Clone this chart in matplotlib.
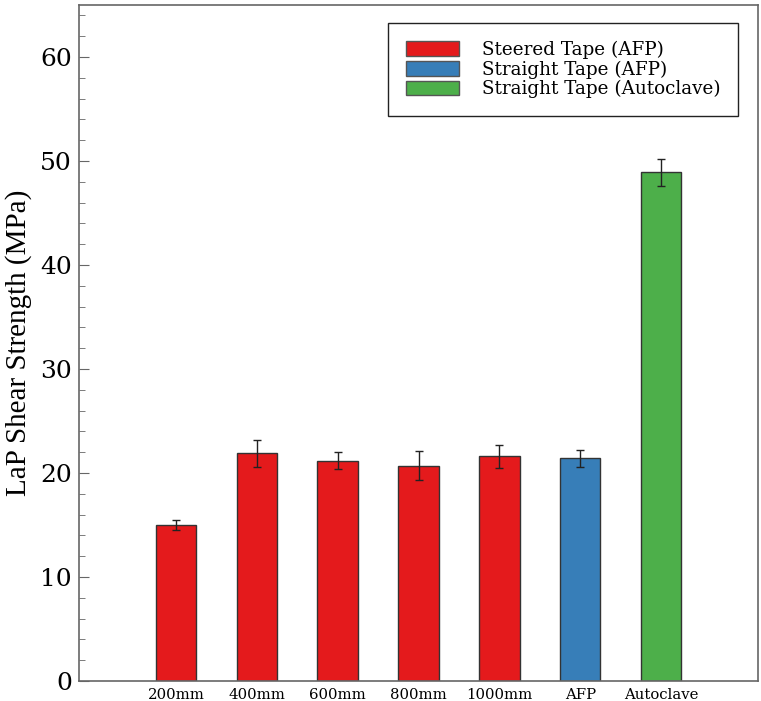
import matplotlib
matplotlib.use("Agg")
import matplotlib.pyplot as plt
import numpy as np
from matplotlib.patches import Patch
from matplotlib.ticker import MultipleLocator

# ---------------------------------------------------------------------------
# Data
# ---------------------------------------------------------------------------
categories = ["200mm", "400mm", "600mm", "800mm", "1000mm", "AFP", "Autoclave"]
strength = [15.0, 21.9, 21.2, 20.7, 21.6, 21.4, 48.9]
strength_err = [0.5, 1.3, 0.8, 1.4, 1.1, 0.8, 1.3]
groups = ["steered", "steered", "steered", "steered", "steered", "straight_afp", "autoclave"]

group_colors = {
    "steered": "#e41a1c",
    "straight_afp": "#377eb8",
    "autoclave": "#4daf4a",
}
group_labels = {
    "steered": "Steered Tape (AFP)",
    "straight_afp": "Straight Tape (AFP)",
    "autoclave": "Straight Tape (Autoclave)",
}

# ---------------------------------------------------------------------------
# Plot
# ---------------------------------------------------------------------------
fig = plt.figure(figsize=(7.61, 7.01), dpi=100)
ax = fig.add_axes([79 / 761, 1 - 681 / 701, (758 - 79) / 761, (681 - 5) / 701])

x = np.arange(len(categories))
colors = [group_colors[g] for g in groups]
ax.bar(x, strength, width=0.5, color=colors, edgecolor="#333333", linewidth=1.0, zorder=2)
ax.errorbar(x, strength, yerr=strength_err, fmt="none", ecolor="#222222",
            elinewidth=1.0, capsize=2.6, capthick=1.0, zorder=3)

ax.set_xlim(-1.2, 7.2)
ax.set_ylim(0, 65)
ax.yaxis.set_major_locator(MultipleLocator(10))
ax.yaxis.set_minor_locator(MultipleLocator(2))
ax.set_xticks(x)
ax.set_xticklabels(categories, family="DejaVu Serif", fontsize=10.7)
ax.tick_params(axis="x", length=0, pad=5)
ax.tick_params(axis="y", which="major", direction="in", length=7, color="#666666",
               labelsize=18, right=False, pad=5)
ax.tick_params(axis="y", which="minor", direction="in", length=4, color="#666666")
for lbl in ax.get_yticklabels():
    lbl.set_family("DejaVu Serif")

ax.set_ylabel("LaP Shear Strength (MPa)", family="Liberation Serif", fontsize=21, labelpad=6)

for s in ax.spines.values():
    s.set_color("#666666")
    s.set_linewidth(1.2)

handles = [Patch(facecolor=group_colors[k], edgecolor="#555555", label=group_labels[k])
           for k in ["steered", "straight_afp", "autoclave"]]
leg = ax.legend(handles=handles, loc="upper right", bbox_to_anchor=(0.97, 0.973),
                prop={"family": "DejaVu Serif", "size": 13.2}, fancybox=False,
                edgecolor="#222222", framealpha=1, handlelength=2.9, handleheight=0.85,
                handletextpad=1.25, borderpad=0.95, borderaxespad=0, labelspacing=0.08)
leg.get_frame().set_linewidth(1.0)

fig.savefig("out.png", dpi=100)
